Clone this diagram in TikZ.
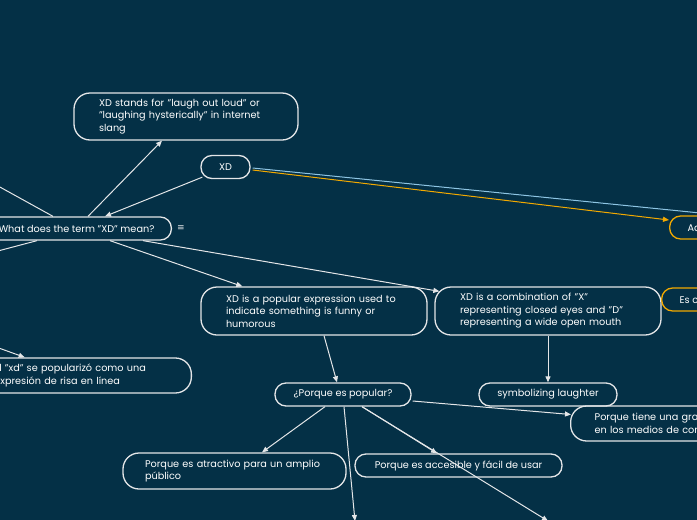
\documentclass[tikz,border=0pt]{standalone}
\usepackage{fontspec}
\setmainfont{Poppins}
\newfontfamily\symfont{DejaVu Sans}
\usetikzlibrary{positioning, arrows.meta, calc}
\definecolor{mapbg}{RGB}{4,48,70}
\definecolor{mapline}{RGB}{228,230,232}
\definecolor{maporange}{RGB}{242,169,0}
\definecolor{mapblue}{RGB}{142,197,227}

\tikzset{
  topic/.style={draw=mapline, line width=1.3pt, rounded corners=16pt, text=white,
        font=\fontsize{9.7}{12.5}\selectfont, align=left, inner xsep=25pt, inner ysep=0pt},
  pill/.style={topic, rounded corners=11pt, align=center, inner xsep=0pt, minimum height=23pt},
  link/.style={draw=mapline, line width=1pt, -{Triangle[length=6pt,width=5pt]}},
}

\begin{document}
\begin{tikzpicture}[x=1pt, y=-1pt]
  \fill[mapbg] (0,0) rectangle (697,520);
  \useasboundingbox (0,0) rectangle (697,520);
  \clip (0,0) rectangle (697,520);

  \node[pill, anchor=east, inner xsep=17pt] (term) at (172,228.5) {What does the term "XD" mean?};
  \node[text=mapline, font=\symfont\fontsize{9}{9}\selectfont] (menu) at (181,228.5) {≡};
  \node[topic, text width=174pt, minimum height=47pt] (stands) at (186,116.5)
    {XD stands for "laugh out loud" or\\"laughing hysterically" in internet\\slang};
  \node[pill, minimum width=49pt] (xd) at (225.5,167) {XD};
  \node[topic, text width=176pt, minimum height=48pt] (popular) at (314,311)
    {XD is a popular expression used to\\indicate something is funny or\\humorous};
  \node[topic, text width=176pt, minimum height=48pt] (comb) at (548,311)
    {XD is a combination of "X"\\representing closed eyes and "D"\\representing a wide open mouth};
  \node[pill, minimum width=138pt] (laughter) at (548,394.5) {symbolizing laughter};
  \node[pill, minimum width=136pt] (why) at (343,394.5) {¿Porque es popular?};
  \node[topic, anchor=west, inner xsep=24pt, text width=200pt, minimum height=35pt] (media) at (570,423.5)
    {Porque tiene una gran presencia\\en los medios de comunicación};
  \node[topic, text width=179pt, inner xsep=22pt, minimum height=36pt] (appeal) at (234.5,471)
    {Porque es atractivo para un amplio\\público};
  \node[pill, minimum width=207pt] (easy) at (458.5,465.5) {Porque es accesible y fácil de usar};
  \node[topic, anchor=east, text width=172pt, minimum height=35pt] (online) at (192,375.5)
    {El "xd" se popularizó como una\\expresión de risa en línea};
  \node[pill, draw=maporange, anchor=west, inner xsep=18pt] (also) at (669,227.5) {Además};
  \node[pill, draw=maporange, anchor=west, inner xsep=18pt] (common) at (661,299.5) {Es común};

  \coordinate (offUL) at (-40,165);
  \coordinate (offDL) at (-40,261);
  \coordinate (offL) at (-40,334);
  \coordinate (offB1) at (355,521);
  \coordinate (offB2) at (548,521);
  \coordinate (offR) at (740,217);

  \draw[link, draw=mapblue] ($(xd.east)+(2,1)$) -- (offR);
  \draw[link, draw=maporange, -{Triangle[length=6pt,width=5pt,fill=maporange]}] ($(xd.east)+(2,3)$) -- ($(also.west)+(0,-7.5)$);
  \draw[link] ($(xd.south west)+(2,-2)$) -- ($(term.north east)+(-67,0)$);
  \draw[link] ($(term.north east)+(-84,0)$) -- ($(stands.south)+(-24,0)$);
  \draw[link] ($(term.north east)+(-119,0)$) -- (offUL);
  \draw[link] ($(term.south east)+(-135,0)$) -- (offDL);
  \draw[link] ($(term.south east)+(-62,0)$) -- ($(popular.north west)+(42,0)$);
  \draw[link] ($(term.south east)+(-29,0)$) -- ($(comb.north west)+(5,5)$);
  \draw[link] ($(popular.south)+(10,0)$) -- ($(why.north)+(-6,0)$);
  \draw[link] (comb.south) -- (laughter.north);
  \draw[link] ($(why.east)+(1,6.5)$) -- ($(media.west)+(1,-9)$);
  \draw[link] ($(why.south)+(-18,0)$) -- ($(appeal.north)+(27.5,0)$);
  \draw[link] ($(why.south)+(1,0)$) -- (offB1);
  \draw[link] ($(why.south)+(19,0)$) -- ($(easy.north)+(-21.5,0)$);
  \draw[link] ($(why.south)+(19,0)$) -- (offB2);
  \draw[link] (offL) -- ($(online.north west)+(56,0)$);
\end{tikzpicture}
\end{document}
